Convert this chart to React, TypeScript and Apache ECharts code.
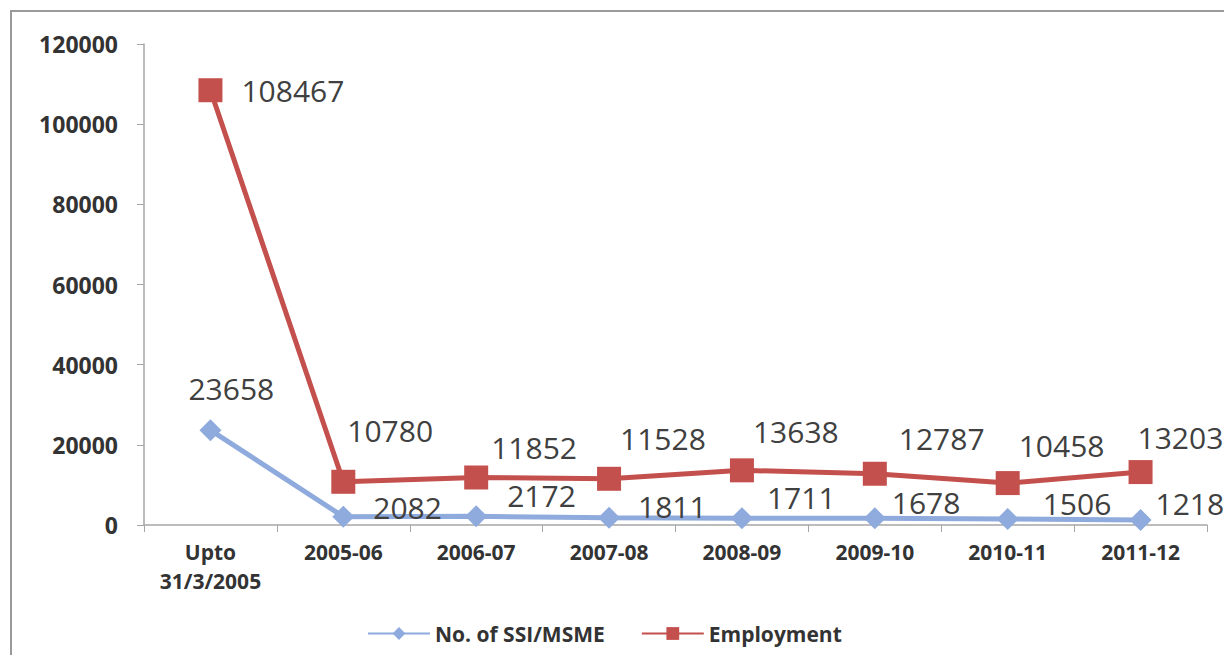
import React, { useEffect, useRef } from "react";
import * as echarts from "echarts";

const categories = ["Upto\n31/3/2005", "2005-06", "2006-07", "2007-08", "2008-09", "2009-10", "2010-11", "2011-12"];
const ssiValues = [23658, 2082, 2172, 1811, 1711, 1678, 1506, 1218];
const employmentValues = [108467, 10780, 11852, 11528, 13638, 12787, 10458, 13203];
const yTicks = { min: 0, max: 120000, interval: 20000 };

// label placement offsets (layout only)
const ssiLabelOffsets = [[-33, -42], [19, -9], [20, -21], [18, -11], [14, -21], [6, -16], [24, -15], [4, -17]];
const empLabelOffsets = [[19, 0], [-8, -51], [3, -30], [-1, -40], [-1, -39], [12, -35], [-1, -38], [-15, -35]];

const FONT = "'Open Sans', 'Liberation Sans', sans-serif";

export default function App() {
  const ref = useRef<HTMLDivElement>(null);
  useEffect(() => {
    if (!ref.current) return;
    const chart = echarts.init(ref.current, undefined, { renderer: "svg" });
    const labelStyle = { fontFamily: FONT, fontSize: 30, color: "#404040" };
    chart.setOption({
      animation: false,
      backgroundColor: "#ffffff",
      graphic: [
        {
          type: "rect",
          shape: { x: 11, y: 11, width: 1300, height: 700 },
          style: { fill: "none", stroke: "#9a9a9a", lineWidth: 2 },
          silent: true,
        },
      ],
      grid: { left: 144, right: 17, top: 44, bottom: 130, containLabel: false },
      legend: {
        bottom: 6,
        left: 362,
        itemWidth: 62,
        itemHeight: 16,
        itemGap: 36,
        textStyle: { fontFamily: FONT, fontSize: 21, fontWeight: "bold", color: "#333333" },
        data: ["No. of SSI/MSME", "Employment"],
      },
      xAxis: {
        type: "category",
        data: categories,
        boundaryGap: true,
        axisLine: { lineStyle: { color: "#a6a6a6", width: 1.5 } },
        axisTick: { show: true, length: 7, lineStyle: { color: "#a6a6a6" } },
        axisLabel: {
          interval: 0,
          margin: 12,
          fontFamily: FONT,
          fontSize: 21,
          fontWeight: "bold",
          color: "#333333",
          lineHeight: 29,
        },
        splitLine: { show: false },
      },
      yAxis: {
        type: "value",
        min: yTicks.min,
        max: yTicks.max,
        interval: yTicks.interval,
        axisLine: { show: true, lineStyle: { color: "#a6a6a6", width: 1.5 } },
        axisTick: { show: true, length: 7, lineStyle: { color: "#a6a6a6" } },
        axisLabel: {
          margin: 26,
          fontFamily: FONT,
          fontSize: 23,
          fontWeight: "bold",
          color: "#333333",
          formatter: (v: number) => String(v),
        },
        splitLine: { show: false },
      },
      series: [
        {
          name: "No. of SSI/MSME",
          type: "line",
          data: ssiValues.map((v, i) => ({
            value: v,
            label: { offset: ssiLabelOffsets[i] },
          })),
          symbol: "diamond",
          symbolSize: 22,
          lineStyle: { color: "#8faadc", width: 5 },
          itemStyle: { color: "#8faadc" },
          label: { show: true, position: "right", distance: 0, ...labelStyle },
          z: 2,
        },
        {
          name: "Employment",
          type: "line",
          data: employmentValues.map((v, i) => ({
            value: v,
            label: { offset: empLabelOffsets[i] },
          })),
          symbol: "rect",
          symbolSize: 24,
          lineStyle: { color: "#c4504d", width: 5 },
          itemStyle: { color: "#c4504d" },
          label: { show: true, position: "right", distance: 0, ...labelStyle },
          z: 3,
        },
      ],
    });
    return () => chart.dispose();
  }, []);
  return (
    <div
      ref={ref}
      style={{ position: "absolute", left: 0, top: 0, width: 1224, height: 655 }}
    />
  );
}
